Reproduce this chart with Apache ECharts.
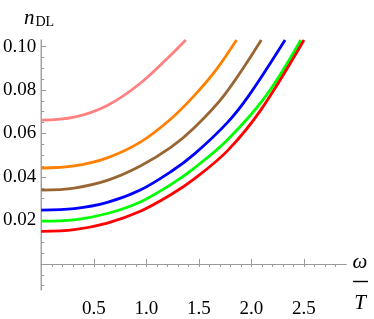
<!DOCTYPE html>
<html>
<head>
<meta charset="utf-8">
<script src="https://cdn.jsdelivr.net/npm/echarts@6/dist/echarts.min.js"></script>
<style>
html,body{margin:0;padding:0;background:#fff;}
#chart{width:374px;height:319px;}
</style>
</head>
<body>
<div id="chart"></div>
<script>
// ---- data ----
var xTickLabels = [0.5, 1.0, 1.5, 2.0, 2.5];
var xMinorTicks = [0.1,0.2,0.3,0.4,0.5,0.6,0.7,0.8,0.9,1.0,1.1,1.2,1.3,1.4,1.5,1.6,1.7,1.8,1.9,2.0,2.1,2.2,2.3,2.4,2.5,2.6,2.7,2.8];
var yTickLabels = [0.02, 0.04, 0.06, 0.08, 0.10];
var yMinorTicks = [-0.01,-0.005,0.005,0.01,0.015,0.02,0.025,0.03,0.035,0.04,0.045,0.05,0.055,0.06,0.065,0.07,0.075,0.08,0.085,0.09,0.095,0.10];

var xPink   = [0, 0.314, 0.629, 0.943, 1.258, 1.375];
var yPink   = [0.0661, 0.0675, 0.0729, 0.0831, 0.0973, 0.1030];
var xOrange = [0, 0.314, 0.629, 0.943, 1.236, 1.456, 1.66, 1.858];
var yOrange = [0.0441, 0.0451, 0.0488, 0.0560, 0.0668, 0.0774, 0.0890, 0.1030];
var xBrown  = [0, 0.314, 0.629, 0.943, 1.236, 1.456, 1.738, 2.094];
var yBrown  = [0.0339, 0.0349, 0.0384, 0.0450, 0.0537, 0.0626, 0.0774, 0.1030];
var xBlue   = [0, 0.314, 0.629, 0.943, 1.236, 1.456, 1.771, 1.975, 2.32];
var yBlue   = [0.0247, 0.0254, 0.0283, 0.0340, 0.0425, 0.0505, 0.0650, 0.0774, 0.1030];
var xGreen  = [0, 0.314, 0.629, 0.943, 1.236, 1.456, 1.771, 2.14, 2.47];
var yGreen  = [0.0197, 0.0203, 0.0232, 0.0285, 0.0366, 0.0441, 0.0570, 0.0774, 0.1030];
var xRed    = [0, 0.314, 0.629, 0.943, 1.236, 1.456, 1.771, 2.085, 2.50];
var yRed    = [0.0150, 0.0158, 0.0188, 0.0242, 0.0319, 0.0391, 0.0520, 0.0705, 0.1030];

var seriesNames  = ['pink','orange','brown','blue','green','red'];
var seriesColors = ['#FF8080','#FF8000','#996633','#0000FF','#00FF00','#FF0000'];
var seriesX = [xPink, xOrange, xBrown, xBlue, xGreen, xRed];
var seriesY = [yPink, yOrange, yBrown, yBlue, yGreen, yRed];

function zip(xs, ys){ return xs.map(function(x,i){ return [x, ys[i]]; }); }

var FONT = '"Liberation Serif","DejaVu Serif",serif';
var AXIS_COLOR = '#9a9a9a';

var chart = echarts.init(document.getElementById('chart'), null, {renderer:'canvas'});

var series = seriesNames.map(function(n, i){
  return {
    name: n, type: 'line', xAxisIndex: 0, yAxisIndex: 0,
    data: zip(seriesX[i], seriesY[i]),
    smooth: 0.35,
    showSymbol: false, symbol: 'none', clip: true,
    lineStyle: {color: seriesColors[i], width: 2.8},
    z: 3
  };
});

var xBase = {type:'value', min:0, max:2.9, splitLine:{show:false}, gridIndex:0,
             axisLine:{show:true, onZero:true, lineStyle:{color:AXIS_COLOR, width:1}}};
var yBase = {type:'value', min:-0.012, max:0.103, splitLine:{show:false}, gridIndex:0,
             axisLine:{show:true, onZero:true, lineStyle:{color:AXIS_COLOR, width:1}}};

chart.setOption({
  animation: false,
  backgroundColor: '#fff',
  grid: {left:39, top:40, width:307, height:270, containLabel:false},
  xAxis: [
    Object.assign({}, xBase, {
      axisTick:{show:true, inside:true, length:5, customValues:xTickLabels, lineStyle:{color:AXIS_COLOR}},
      axisLabel:{show:true, customValues:xTickLabels, margin:10, color:'#000', fontFamily:FONT, fontSize:19,
                 formatter:function(v){ return v.toFixed(1); }}
    }),
    Object.assign({}, xBase, {
      axisTick:{show:true, inside:true, length:3, customValues:xMinorTicks, lineStyle:{color:AXIS_COLOR}},
      axisLabel:{show:false}
    })
  ],
  yAxis: [
    Object.assign({}, yBase, {
      axisTick:{show:true, inside:true, length:5, customValues:yTickLabels, lineStyle:{color:AXIS_COLOR}},
      axisLabel:{show:true, customValues:yTickLabels, margin:5, color:'#000', fontFamily:FONT, fontSize:19,
                 formatter:function(v){ return v.toFixed(2); }}
    }),
    Object.assign({}, yBase, {
      position:'left',
      axisTick:{show:true, inside:true, length:3, customValues:yMinorTicks, lineStyle:{color:AXIS_COLOR}},
      axisLabel:{show:false}
    })
  ],
  graphic: [
    {type:'text', left:24, top:8, style:{
      text:'{n|n}{s|DL}',
      rich:{
        n:{fontFamily:FONT, fontStyle:'italic', fontSize:21, fill:'#000', verticalAlign:'bottom'},
        s:{fontFamily:FONT, fontSize:14, fill:'#000', verticalAlign:'bottom', padding:[8,0,0,1]}
      }
    }},
    {type:'text', x:360, y:262, style:{text:'ω', fontFamily:FONT, fontStyle:'italic', fontSize:21,
      fill:'#000', align:'center', verticalAlign:'middle'}},
    {type:'line', shape:{x1:353, y1:281.5, x2:368, y2:281.5}, style:{stroke:'#000', lineWidth:1.4}},
    {type:'text', x:360, y:303, style:{text:'T', fontFamily:FONT, fontStyle:'italic', fontSize:21,
      fill:'#000', align:'center', verticalAlign:'middle'}}
  ],
  series: series
});
</script>
</body>
</html>
